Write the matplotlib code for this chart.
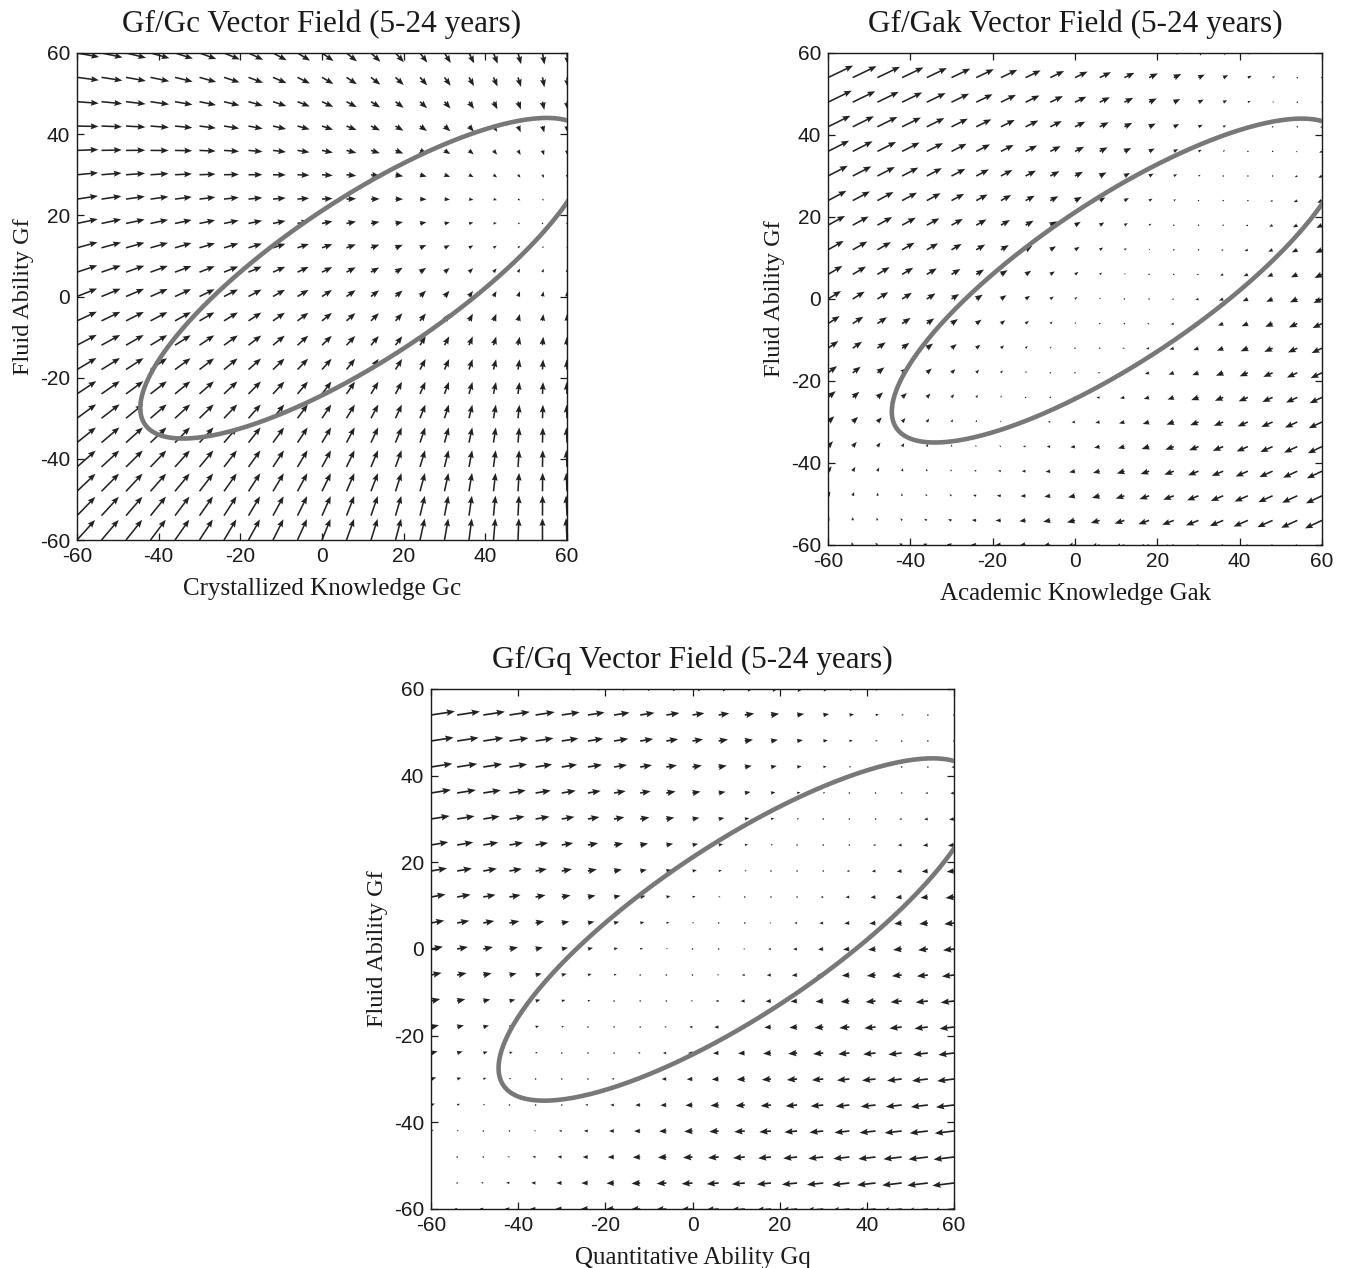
import numpy as np
import matplotlib
matplotlib.use("Agg")
import matplotlib.pyplot as plt

# ---------------- data ----------------
grid_values = [-60, -54, -48, -42, -36, -30, -24, -18, -12, -6, 0,
               6, 12, 18, 24, 30, 36, 42, 48, 54, 60]
tick_values = [-60, -40, -20, 0, 20, 40, 60]
tick_labels = ["-60", "-40", "-20", "0", "20", "40", "60"]

titles = ["Gf/Gc Vector Field (5-24 years)",
          "Gf/Gak Vector Field (5-24 years)",
          "Gf/Gq Vector Field (5-24 years)"]
xlabels = ["Crystallized Knowledge Gc",
           "Academic Knowledge Gak",
           "Quantitative Ability Gq"]
ylabel = "Fluid Ability Gf"

# expected change coefficients (read from arrows):
# change = c0 + cx*x + cy*y + cxy*x*y   (x: knowledge/ability, y: Gf)
gc_dx = [10.0, -0.167, 0.025, -0.00014]
gc_dy = [6.5, -0.025, -0.242, -0.00069]
gak_dx = [2.25, -0.179, 0.19, -0.00054]
gak_dy = [2.0, -0.10, 0.074, 0.0]
gq_dx = [0.5, -0.19, 0.21, -0.0002]
gq_dy = [0.5, -0.03, 0.025, 0.0]

# confidence ellipse of the observed scores
ellipse_center = [10.5, 4.5]
ellipse_semi_x = 55.0
ellipse_semi_y = 39.5
ellipse_phase = 0.627

# ---------------- figure ----------------
W, H = 1345, 1268
fig = plt.figure(figsize=(W / 100, H / 100), dpi=100)

serif = ["Liberation Serif", "DejaVu Serif"]
sans = ["Liberation Sans", "DejaVu Sans"]

panels = [
    dict(box=(77, 53, 567, 540), dx=gc_dx, dy=gc_dy, ppu=4.07),
    dict(box=(828, 53, 1322, 545), dx=gak_dx, dy=gak_dy, ppu=4.1),
    dict(box=(431, 689, 954, 1209), dx=gq_dx, dy=gq_dy, ppu=4.35),
]


def change(coef, X, Y):
    return coef[0] + coef[1] * X + coef[2] * Y + coef[3] * X * Y


X, Y = np.meshgrid(np.array(grid_values, float), np.array(grid_values, float))
t = np.linspace(0, 2 * np.pi, 400)
ex = ellipse_center[0] + ellipse_semi_x * np.cos(t)
ey = ellipse_center[1] + ellipse_semi_y * np.cos(t + ellipse_phase)

for i, p in enumerate(panels):
    l, tp, r, b = p["box"]
    ax = fig.add_axes([l / W, (H - b) / H, (r - l) / W, (b - tp) / H])
    U = change(p["dx"], X, Y)
    V = change(p["dy"], X, Y)
    ax.quiver(X, Y, U, V, angles="xy", scale_units="xy", scale=p["ppu"],
              color="#222222", width=0.0032, headwidth=3.9, headlength=5.0,
              headaxislength=4.4, zorder=2)
    ax.plot(ex, ey, color="#787878", lw=3.3, zorder=3, solid_capstyle="round")
    ax.set_xlim(-60, 60)
    ax.set_ylim(-60, 60)
    ax.set_xticks(tick_values)
    ax.set_xticklabels(tick_labels)
    ax.set_yticks(tick_values)
    ax.set_yticklabels(tick_labels)
    ax.tick_params(direction="in", length=5, width=0.9, top=True, right=True,
                   labelsize=15, pad=5, colors="#1a1a1a")
    for lab in ax.get_xticklabels() + ax.get_yticklabels():
        lab.set_family(sans)
    for s in ax.spines.values():
        s.set_linewidth(1.0)
        s.set_color("#1a1a1a")
    ax.set_title(titles[i], family=serif, fontsize=22.5, pad=15, color="#1a1a1a")
    ax.set_xlabel(xlabels[i], family=serif, fontsize=18, labelpad=9, color="#1a1a1a")
    ax.set_ylabel(ylabel, family=serif, fontsize=17.5, labelpad=4, color="#1a1a1a")

fig.savefig("out.png", dpi=100)
